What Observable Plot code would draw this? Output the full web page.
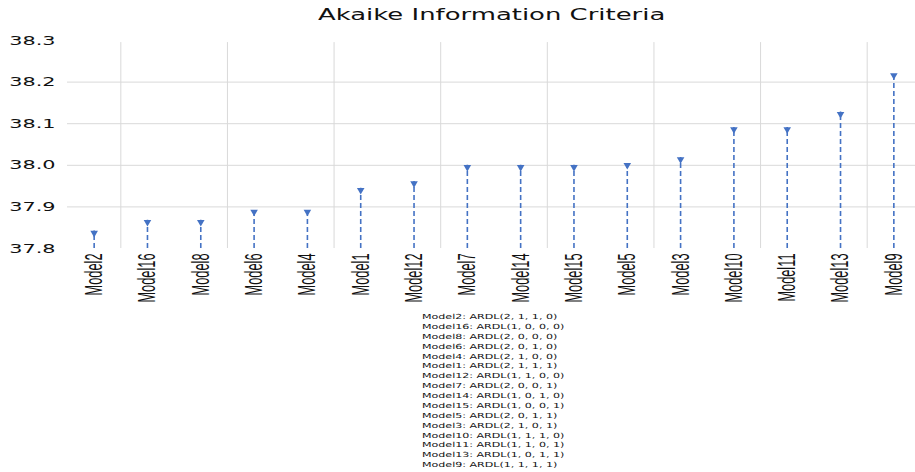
<!DOCTYPE html>
<html><head><meta charset="utf-8">
<script src="https://cdn.jsdelivr.net/npm/d3@7"></script>
<script src="https://cdn.jsdelivr.net/npm/@observablehq/plot@0.6"></script>
<style>
body{margin:0;background:#fff;width:915px;height:472px;overflow:hidden;position:relative;font-family:"DejaVu Sans",sans-serif;}
#title{position:absolute;left:318px;top:5px;font-size:15.5px;color:#111;white-space:nowrap;line-height:20px;transform:scaleX(1.67);transform-origin:0 0;}
#chart{position:absolute;left:0;top:32px;}
#legend{position:absolute;left:422px;top:313px;font-size:7px;line-height:9.87px;color:#111;white-space:nowrap;transform:scaleX(1.58);transform-origin:0 0;}
</style></head>
<body>
<div id="title">Akaike Information Criteria</div>
<div id="chart"></div>
<div id="legend"></div>
<script>
const models = ["Model2","Model16","Model8","Model6","Model4","Model1","Model12","Model7","Model14","Model15","Model5","Model3","Model10","Model11","Model13","Model9"];
const aic = [37.842,37.868,37.868,37.893,37.893,37.945,37.961,38.000,38.000,38.000,38.005,38.019,38.091,38.091,38.128,38.221];
const specs = ["ARDL(2, 1, 1, 0)","ARDL(1, 0, 0, 0)","ARDL(2, 0, 0, 0)","ARDL(2, 0, 1, 0)","ARDL(2, 1, 0, 0)","ARDL(2, 1, 1, 1)","ARDL(1, 1, 0, 0)","ARDL(2, 0, 0, 1)","ARDL(1, 0, 1, 0)","ARDL(1, 0, 0, 1)","ARDL(2, 0, 1, 1)","ARDL(2, 1, 0, 1)","ARDL(1, 1, 1, 0)","ARDL(1, 1, 0, 1)","ARDL(1, 0, 1, 1)","ARDL(1, 1, 1, 1)"];
const yTicks = [37.8,37.9,38.0,38.1,38.2,38.3];
const gridTicks = [37.9,38.0,38.1,38.2];
const yDomain = [37.8, 38.3];

const data = models.map((m,i)=>({model:m, aic:aic[i]}));
const xRange = [67, 920];
const step = (xRange[1]-xRange[0])/models.length;
const dividers = models.filter((m,i)=>i%2===1);
const blue = "#4472C4";

const plot = Plot.plot({
  width: 915,
  height: 280,
  marginTop: 8,
  marginBottom: 64,
  marginLeft: 67,
  marginRight: 0,
  x: {type:"band", domain: models, range: xRange, padding: 0, round: false},
  y: {domain: yDomain},
  style: {fontFamily: "DejaVu Sans", background: "#fff"},
  marks: [
    Plot.gridY(gridTicks, {stroke:"#d9d9d9", strokeOpacity:1, strokeWidth:1}),
    Plot.ruleX(dividers, {x: d=>d, dx: -step/2, y1: 37.8, y2: 38.295, stroke:"#d9d9d9", strokeWidth:1}),
    Plot.ruleX(data, {x:"model", y1: yDomain[0], y2:"aic", stroke: blue, strokeWidth:1.6, strokeDasharray:"5,3"}),
    Plot.dot(data, {x:"model", y:"aic", symbol:"triangle", rotate:180, r:2.8, fill: blue, stroke:"none", dy:2}),
    Plot.axisY(yTicks, {label:null, tickSize:0, tickPadding:12, fontSize:13, fill:"#111", tickFormat: d=>d.toFixed(1)}),
    Plot.axisX({label:null, tickSize:0, tickPadding:5, tickRotate:-90, fontSize:16, fontFamily:"Liberation Sans", fill:"#111"})
  ]
});
document.getElementById("chart").appendChild(plot);

// horizontal stretch of the reference's text rendering
plot.querySelectorAll('g[aria-label="y-axis tick label"] text').forEach(t=>{
  t.setAttribute("transform", (t.getAttribute("transform")||"") + " scale(1.6,1)");
});
plot.querySelectorAll('g[aria-label="x-axis tick label"] text').forEach(t=>{
  t.setAttribute("transform", (t.getAttribute("transform")||"") + " scale(0.8,1.55)");
});

const leg = document.getElementById("legend");
models.forEach((m,i)=>{
  const div = document.createElement("div");
  div.textContent = m + ": " + specs[i];
  leg.appendChild(div);
});
</script>
</body></html>
